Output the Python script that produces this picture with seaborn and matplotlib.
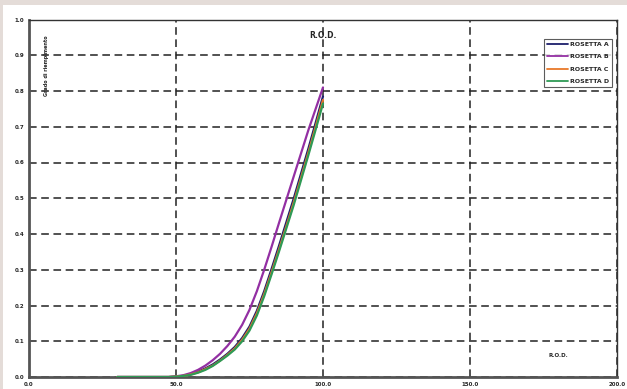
import matplotlib
matplotlib.use("Agg")
import matplotlib.pyplot as plt
import matplotlib.ticker as mticker
from matplotlib.patches import Rectangle
import seaborn as sns
import pandas as pd

x_vals = [30, 32.5, 35, 37.5, 40, 42.5, 45, 47.5,
          50, 52.5, 55, 57.5, 60, 62.5, 65, 67.5, 70, 72.5, 75, 77.5,
          80, 82.5, 85, 87.5, 90, 92.5, 95, 97.5, 100]
zeros = [0, 0, 0, 0, 0, 0, 0, 0]
rosetta_a = zeros + [0.001, 0.003, 0.008, 0.015, 0.024, 0.035, 0.049, 0.065, 0.084, 0.109,
                     0.141, 0.185, 0.240, 0.302, 0.366, 0.432, 0.498, 0.568, 0.638, 0.711, 0.785]
rosetta_b = zeros + [0.002, 0.005, 0.011, 0.020, 0.032, 0.047, 0.065, 0.087, 0.113, 0.146,
                     0.188, 0.240, 0.300, 0.364, 0.430, 0.495, 0.560, 0.625, 0.690, 0.750, 0.810]
rosetta_c = zeros + [0.001, 0.003, 0.007, 0.013, 0.022, 0.032, 0.046, 0.062, 0.080, 0.104,
                     0.135, 0.178, 0.232, 0.293, 0.356, 0.421, 0.487, 0.557, 0.627, 0.700, 0.775]
rosetta_d = zeros + [0.001, 0.003, 0.006, 0.012, 0.020, 0.031, 0.045, 0.060, 0.077, 0.100,
                     0.130, 0.172, 0.226, 0.287, 0.350, 0.415, 0.480, 0.550, 0.620, 0.692, 0.765]
series_names = ["ROSETTA A", "ROSETTA B", "ROSETTA C", "ROSETTA D"]
colors = ["#1c1f6b", "#932fa3", "#e8782a", "#2e9a55"]
x_ticks = [0, 50, 100, 150, 200]
y_ticks = [0.0, 0.1, 0.2, 0.3, 0.4, 0.5, 0.6, 0.7, 0.8, 0.9, 1.0]

rows = []
for name, vals in zip(series_names, [rosetta_a, rosetta_b, rosetta_c, rosetta_d]):
    for xv, yv in zip(x_vals, vals):
        rows.append({"x": xv, "y": yv, "serie": name})
df = pd.DataFrame(rows)

sns.set_style("white")
plt.rcParams["font.family"] = ["DejaVu Sans"]

fig = plt.figure(figsize=(6.27, 3.89), dpi=100)
fig.patch.set_facecolor("#e4dcd8")
bg = Rectangle((3 / 627, 0), 1, 1 - 5 / 389, transform=fig.transFigure,
               facecolor="white", edgecolor="none", zorder=-10)
fig.patches.append(bg)

ax = fig.add_axes([29 / 627, 12 / 389, (617 - 29) / 627, (377 - 19.5) / 389])
ax.set_zorder(5)
ax.set_facecolor("white")

sns.lineplot(data=df, x="x", y="y", hue="serie", palette=colors, ax=ax,
             linewidth=1.6, legend=True, zorder=3)

ax.set_xlim(0, 200)
ax.set_ylim(0, 1.0)
ax.set_xticks(x_ticks)
ax.set_yticks(y_ticks)
ax.xaxis.set_major_formatter(mticker.FormatStrFormatter("%.1f"))
ax.yaxis.set_major_formatter(mticker.FormatStrFormatter("%.1f"))
ax.tick_params(axis="both", labelsize=4, length=3, width=0.8, direction="inout", pad=2)
for lbl in ax.get_xticklabels() + ax.get_yticklabels():
    lbl.set_fontweight("bold")
ax.grid(True, color="#222222", linestyle=(0, (5, 3)), linewidth=1.1)
ax.set_xlabel("")
ax.set_ylabel("")

for side in ["top", "right"]:
    ax.spines[side].set_color("#333333")
    ax.spines[side].set_linewidth(1.0)
for side in ["left", "bottom"]:
    ax.spines[side].set_color("#555555")
    ax.spines[side].set_linewidth(2.0)

ax.text(100, 0.955, "R.O.D.", ha="center", va="center", fontsize=5.5, fontweight="bold")
ax.text(180, 0.06, "R.O.D.", ha="center", va="center", fontsize=4, fontweight="bold")
ax.text(6, 0.87, "Grado di riempimento", rotation=90, ha="center", va="center",
        fontsize=3.5, fontweight="bold")

leg = ax.legend(loc="upper right", bbox_to_anchor=(0.997, 0.955), fontsize=4.5,
                frameon=True, fancybox=False, edgecolor="#333333", handlelength=3.3,
                borderpad=0.5, labelspacing=1.1, handletextpad=0.3)
leg.get_frame().set_linewidth(0.8)
for t in leg.get_texts():
    t.set_fontweight("bold")
for h in leg.get_lines():
    h.set_linewidth(1.3)

fig.savefig("out.png", dpi=100, facecolor=fig.get_facecolor())
